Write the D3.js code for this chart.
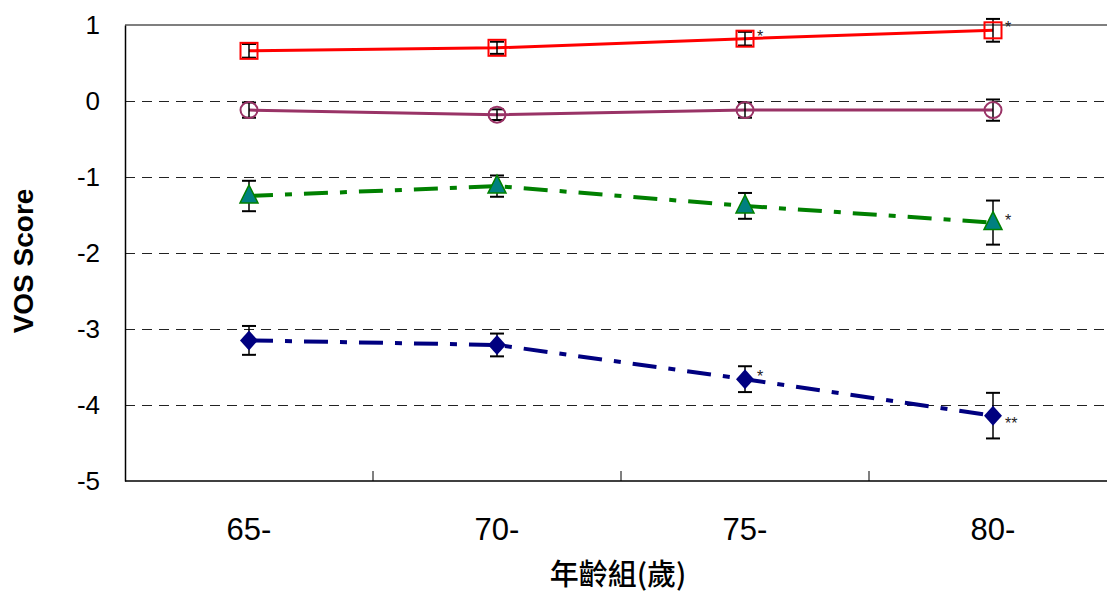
<!DOCTYPE html>
<html>
<head>
<meta charset="utf-8">
<script src="https://cdn.jsdelivr.net/npm/d3@7"></script>
<style>
  body { margin: 0; background: #fff; }
  text { font-family: "Liberation Sans", Arial, sans-serif; }
</style>
</head>
<body>
<svg id="chart"></svg>
<script>
// age groups and y ticks
var ageGroups = ["65-", "70-", "75-", "80-"];
var yTicks = [1, 0, -1, -2, -3, -4, -5];

// series means
var redVals = [0.66, 0.70, 0.82, 0.93];
var purpleVals = [-0.12, -0.18, -0.12, -0.12];
var greenVals = [-1.25, -1.12, -1.38, -1.60];
var navyVals = [-3.15, -3.21, -3.66, -4.14];

// error bar half-widths
var redErr = [0.09, 0.08, 0.09, 0.15];
var purpleErr = [0.1, 0.07, 0.1, 0.14];
var greenErr = [0.2, 0.14, 0.17, 0.29];
var navyErr = [0.19, 0.15, 0.17, 0.3];

// significance marks
var redSig = ["", "", "*", "*"];
var purpleSig = ["", "", "", ""];
var greenSig = ["", "", "", "*"];
var navySig = ["", "", "*", "**"];

var W = 1107, H = 592;
var margin = {top: 25, left: 125};
var plotH = 456, bandW = 248;

var svg = d3.select("#chart").attr("width", W).attr("height", H);

var x = d3.scaleBand().domain(ageGroups)
  .range([margin.left, margin.left + bandW * ageGroups.length]).padding(0);
var y = d3.scaleLinear().domain([-5, 1]).range([margin.top + plotH, margin.top]);
function cx(c) { return x(c) + x.bandwidth() / 2; }

// grid lines
svg.append("g").selectAll("line")
  .data(yTicks.filter(function(d) { return d < 1 && d > -5; }))
  .enter().append("line")
  .attr("x1", margin.left).attr("x2", W)
  .attr("y1", function(d) { return y(d) + 0.5; }).attr("y2", function(d) { return y(d) + 0.5; })
  .style("stroke", "#222").style("stroke-width", 1).style("stroke-dasharray", "10,7");

// top border
svg.append("line")
  .attr("x1", margin.left).attr("x2", W)
  .attr("y1", y(1)).attr("y2", y(1))
  .style("stroke", "#555").style("stroke-width", 1.5);

// y axis
var yAxis = svg.append("g")
  .attr("transform", "translate(" + margin.left + ",0)")
  .call(d3.axisLeft(y).tickValues(yTicks).tickSize(0).tickPadding(25).tickFormat(function(d) { return String(d); }));
yAxis.select(".domain").style("stroke", "#000").style("stroke-width", 1.5);
yAxis.selectAll("text").style("font-size", "26px").style("fill", "#000")
  .style("font-family", "'Liberation Sans', Arial, sans-serif");

// x axis: ticks at band edges, pointing up
var xAxisG = svg.append("g").attr("transform", "translate(0," + y(-5) + ")");
xAxisG.append("line").attr("x1", margin.left).attr("x2", W)
  .style("stroke", "#000").style("stroke-width", 1.5);
xAxisG.selectAll(".tk").data(ageGroups.slice(1)).enter().append("line")
  .attr("x1", function(d) { return x(d); }).attr("x2", function(d) { return x(d); })
  .attr("y1", 0).attr("y2", -10)
  .style("stroke", "#000").style("stroke-width", 1);
xAxisG.selectAll(".lbl").data(ageGroups).enter().append("text")
  .attr("x", function(d) { return cx(d); })
  .attr("y", 59)
  .attr("text-anchor", "middle")
  .style("font-size", "31px")
  .text(function(d) { return d; });

// axis titles
svg.append("text")
  .attr("transform", "translate(33,261) rotate(-90)")
  .attr("text-anchor", "middle")
  .style("font-weight", "bold").style("font-size", "28px")
  .text("VOS Score");
svg.append("text")
  .attr("x", 618).attr("y", 585)
  .attr("text-anchor", "middle")
  .style("font-family", "'Noto Sans CJK TC', 'Noto Sans CJK SC', sans-serif")
  .style("font-size", "29px").style("font-weight", "500")
  .text("年齡組(歲)");

var series = [
  {vals: redVals, err: redErr, sig: redSig, color: "#ff0000", dash: null, shape: "square"},
  {vals: purpleVals, err: purpleErr, sig: purpleSig, color: "#993366", dash: null, shape: "circle"},
  {vals: greenVals, err: greenErr, sig: greenSig, color: "#008000", dash: "24,12,7,12", shape: "triangle"},
  {vals: navyVals, err: navyErr, sig: navySig, color: "#000080", dash: "24,12,7,12", shape: "diamond"}
];

var line = d3.line()
  .x(function(d, i) { return cx(ageGroups[i]); })
  .y(function(d) { return y(d); });

series.forEach(function(s) {
  var g = svg.append("g");
  g.append("path").attr("d", line(s.vals))
    .style("fill", "none").style("stroke", s.color)
    .style("stroke-width", s.dash ? 4 : 3)
    .style("stroke-dasharray", s.dash);

  // error bars
  var eb = g.selectAll(".eb").data(s.vals).enter().append("g");
  eb.append("line")
    .attr("x1", function(d, i) { return cx(ageGroups[i]); })
    .attr("x2", function(d, i) { return cx(ageGroups[i]); })
    .attr("y1", function(d, i) { return y(d + s.err[i]); })
    .attr("y2", function(d, i) { return y(d - s.err[i]); })
    .style("stroke", "#000").style("stroke-width", 1.5);
  [1, -1].forEach(function(sign) {
    eb.append("line")
      .attr("x1", function(d, i) { return cx(ageGroups[i]) - 7; })
      .attr("x2", function(d, i) { return cx(ageGroups[i]) + 7; })
      .attr("y1", function(d, i) { return y(d + sign * s.err[i]); })
      .attr("y2", function(d, i) { return y(d + sign * s.err[i]); })
      .style("stroke", "#000").style("stroke-width", 2);
  });

  // markers
  var pts = g.selectAll(".pt").data(s.vals).enter();
  if (s.shape === "square") {
    pts.append("rect")
      .attr("x", function(d, i) { return cx(ageGroups[i]) - 8.5; })
      .attr("y", function(d) { return y(d) - 8; })
      .attr("width", 17).attr("height", 16)
      .style("fill", "none").style("stroke", s.color).style("stroke-width", 2);
  } else if (s.shape === "circle") {
    pts.append("ellipse")
      .attr("cx", function(d, i) { return cx(ageGroups[i]); })
      .attr("cy", function(d) { return y(d); })
      .attr("rx", 8.5).attr("ry", 8)
      .style("fill", "none").style("stroke", s.color).style("stroke-width", 2);
  } else if (s.shape === "triangle") {
    pts.append("path")
      .attr("d", function(d, i) {
        var px = cx(ageGroups[i]), py = y(d);
        return "M" + px + "," + (py - 11) + "L" + (px + 9) + "," + (py + 7) + "L" + (px - 9) + "," + (py + 7) + "Z";
      })
      .style("fill", "#008080").style("stroke", s.color).style("stroke-width", 1.5);
  } else {
    pts.append("path")
      .attr("d", function(d, i) {
        var px = cx(ageGroups[i]), py = y(d);
        return "M" + px + "," + (py - 10) + "L" + (px + 9) + "," + py + "L" + px + "," + (py + 10) + "L" + (px - 9) + "," + py + "Z";
      })
      .style("fill", s.color);
  }

  // significance stars
  g.selectAll(".sig").data(s.sig).enter().append("text")
    .attr("x", function(d, i) { return cx(ageGroups[i]) + 12; })
    .attr("y", function(d, i) { return y(s.vals[i]) + (s.shape === "diamond" && i === 3 ? 13 : 3); })
    .style("font-size", "16px").style("fill", "#222")
    .text(function(d) { return d; });
});
</script>
</body>
</html>
